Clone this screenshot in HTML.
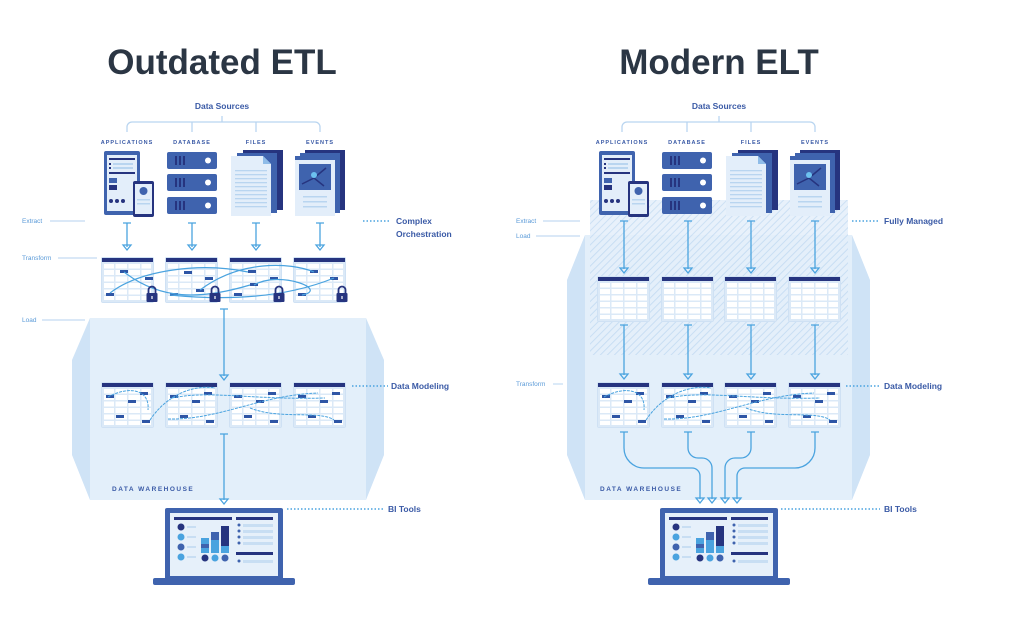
<!DOCTYPE html>
<html><head><meta charset="utf-8"><style>
html,body{margin:0;padding:0;background:#fff;}
svg{display:block;font-family:"Liberation Sans",sans-serif;}
.t{font-weight:bold;fill:#2b3644;font-size:35px;text-anchor:middle}
.ds{font-weight:bold;fill:#3a5aa6;font-size:8.5px;text-anchor:middle}
.cap{fill:#3a5aa6;font-size:5.5px;letter-spacing:1px;font-weight:bold;text-anchor:middle}
.lb{fill:#5a9ad8;font-size:6.5px}
.rl{fill:#3a5aa6;font-size:8.5px;font-weight:bold}
.wh{fill:#3a5aa6;font-size:6.5px;letter-spacing:1.5px;font-weight:bold}
</style></head><body>
<svg width="1009" height="617" viewBox="0 0 1009 617" xmlns="http://www.w3.org/2000/svg">
<defs>
<pattern id="hatch" width="5" height="5" patternUnits="userSpaceOnUse" patternTransform="rotate(45)">
<rect width="5" height="5" fill="#e4effa"/><line x1="0" y1="0" x2="0" y2="5" stroke="#c3dbf2" stroke-width="2"/></pattern>
<g id="tbl">
<rect x="-1" y="-1" width="53" height="46" rx="2" fill="#cfe1f4"/>
<rect x="0" y="0" width="51" height="44" fill="#fff"/>
<rect x="0" y="0" width="51" height="4" fill="#26347f"/>
<g fill="#dbe9f7">
<rect x="0" y="4" width="51" height="2"/><rect x="0" y="10.5" width="51" height="1.5"/><rect x="0" y="17" width="51" height="1.5"/><rect x="0" y="23.5" width="51" height="1.5"/><rect x="0" y="30" width="51" height="1.5"/><rect x="0" y="36.5" width="51" height="1.5"/><rect x="0" y="42" width="51" height="2"/>
<rect x="0" y="4" width="2" height="40"/><rect x="12" y="4" width="1.5" height="40"/><rect x="25" y="4" width="1.5" height="40"/><rect x="38" y="4" width="1.5" height="40"/><rect x="49" y="4" width="2" height="40"/>
</g></g>
<g id="tags" fill="#2e55a5"><rect x="4" y="12" width="8" height="3"/><rect x="26" y="17" width="8" height="3"/><rect x="38" y="9" width="8" height="3"/><rect x="14" y="32" width="8" height="3"/><rect x="40" y="37" width="8" height="3"/></g>
<g id="lock"><path d="M-3.5 0 v-3 a3.5 3.5 0 0 1 7 0 v3" fill="none" stroke="#26347f" stroke-width="1.8"/><rect x="-5.5" y="0" width="11" height="9" rx="1" fill="#26347f"/><rect x="-0.6" y="3" width="1.2" height="3" fill="#fff"/></g>
<g id="app">
<rect x="0" y="0" width="36" height="64" rx="2" fill="#3f63ae"/><rect x="3" y="4" width="30" height="56" fill="#e3eefa"/>
<rect x="5" y="7" width="26" height="2" fill="#26347f"/><rect x="5" y="12" width="2" height="2" fill="#26347f"/><rect x="9" y="12" width="20" height="2" fill="#b9d5f0"/><rect x="5" y="16" width="2" height="2" fill="#26347f"/><rect x="9" y="16" width="20" height="2" fill="#b9d5f0"/>
<rect x="5" y="21" width="26" height="2" fill="#26347f"/><rect x="5" y="27" width="8" height="5" fill="#3f63ae"/><rect x="5" y="34" width="8" height="5" fill="#26347f"/>
<g fill="#26347f"><circle cx="7" cy="50" r="2"/><circle cx="13" cy="50" r="2"/><circle cx="19" cy="50" r="2"/></g>
<rect x="29" y="30" width="21" height="36" rx="2" fill="#26347f"/><rect x="31" y="33" width="17" height="30" fill="#e3eefa"/><circle cx="39.5" cy="40" r="4" fill="#3f63ae"/><rect x="33" y="48" width="13" height="1.5" fill="#b9d5f0"/><rect x="33" y="52" width="13" height="1.5" fill="#b9d5f0"/>
</g>
<g id="srv"><rect x="0" y="0" width="50" height="17" rx="2" fill="#3f63ae"/><g fill="#26347f"><rect x="8" y="4" width="2" height="9"/><rect x="12" y="4" width="2" height="9"/><rect x="16" y="4" width="2" height="9"/></g><circle cx="41" cy="8.5" r="3" fill="#fff"/></g>
<g id="db"><use href="#srv"/><use href="#srv" y="22"/><use href="#srv" y="45"/></g>
<g id="files">
<rect x="12" y="0" width="40" height="60" fill="#26347f"/><rect x="6" y="3" width="40" height="60" fill="#3f63ae"/>
<path d="M0 6 h32 l8 8 v52 h-40z" fill="#e3eefa"/><path d="M32 6 v8 h8z" fill="#8fbce8"/>
<g fill="#b9d5f0"><rect x="4" y="20" width="32" height="1.3"/><rect x="4" y="24" width="32" height="1.3"/><rect x="4" y="28" width="32" height="1.3"/><rect x="4" y="32" width="32" height="1.3"/><rect x="4" y="36" width="32" height="1.3"/><rect x="4" y="40" width="32" height="1.3"/><rect x="4" y="44" width="32" height="1.3"/><rect x="4" y="48" width="32" height="1.3"/><rect x="4" y="52" width="32" height="1.3"/><rect x="4" y="56" width="32" height="1.3"/></g>
</g>
<g id="events">
<rect x="10" y="0" width="40" height="60" fill="#26347f"/><rect x="5" y="3" width="40" height="60" fill="#3f63ae"/>
<rect x="0" y="6" width="40" height="60" fill="#e3eefa"/><rect x="0" y="6" width="40" height="4" fill="#3f63ae"/>
<rect x="4" y="14" width="32" height="26" fill="#3f63ae"/><path d="M7 34 l12 -6 l10 8 M19 28 l12 -10" stroke="#26347f" stroke-width="1.5" fill="none"/><circle cx="19" cy="25" r="3" fill="#6cc1ef"/>
<rect x="8" y="46" width="24" height="1.5" fill="#b9d5f0"/><rect x="8" y="51" width="24" height="1.5" fill="#b9d5f0"/><rect x="8" y="56" width="24" height="1.5" fill="#b9d5f0"/>
</g>
<g id="laptop">
<rect x="12" y="0" width="118" height="72" rx="2" fill="#3f63ae"/><rect x="17" y="5" width="108" height="63" fill="#e6f0fa"/>
<rect x="0" y="70" width="142" height="7" rx="2" fill="#3f63ae"/>
<rect x="21" y="9" width="58" height="3" fill="#26347f"/><rect x="83" y="9" width="37" height="3" fill="#26347f"/>
<circle cx="28" cy="19" r="3.5" fill="#26347f"/><circle cx="28" cy="29" r="3.5" fill="#4aa3df"/><circle cx="28" cy="39" r="3.5" fill="#3f63ae"/><circle cx="28" cy="49" r="3.5" fill="#4aa3df"/>
<g fill="#c8def3"><rect x="34" y="18" width="9" height="2"/><rect x="34" y="28" width="9" height="2"/><rect x="34" y="38" width="9" height="2"/><rect x="34" y="48" width="9" height="2"/></g>
<rect x="48" y="30" width="8" height="15" fill="#4aa3df"/><rect x="48" y="36" width="8" height="4" fill="#3f63ae"/><rect x="58" y="24" width="8" height="21" fill="#4aa3df"/><rect x="58" y="24" width="8" height="8" fill="#3f63ae"/><rect x="68" y="18" width="8" height="27" fill="#26347f"/><rect x="68" y="38" width="8" height="7" fill="#4aa3df"/>
<circle cx="52" cy="50" r="3.5" fill="#26347f"/><circle cx="62" cy="50" r="3.5" fill="#4aa3df"/><circle cx="72" cy="50" r="3.5" fill="#3f63ae"/>
<g fill="#3f63ae"><circle cx="86" cy="17" r="1.5"/><circle cx="86" cy="23" r="1.5"/><circle cx="86" cy="29" r="1.5"/><circle cx="86" cy="35" r="1.5"/><circle cx="86" cy="53" r="1.5"/></g>
<g fill="#c8def3"><rect x="90" y="16" width="30" height="3"/><rect x="90" y="22" width="30" height="3"/><rect x="90" y="28" width="30" height="3"/><rect x="90" y="34" width="30" height="3"/><rect x="90" y="52" width="30" height="3"/></g>
<rect x="83" y="44" width="37" height="3" fill="#26347f"/>
</g>
</defs>

<!-- ================= LEFT ================= -->
<text class="t" x="222" y="74">Outdated ETL</text>
<text class="ds" x="222" y="109">Data Sources</text>
<path d="M127 132 v-5 a5 5 0 0 1 5 -5 h183 a5 5 0 0 1 5 5 v5 M192 122 v10 M256 122 v10 M222 122 v-6" fill="none" stroke="#b9d5f0" stroke-width="1.3"/>
<text class="cap" x="127" y="144">APPLICATIONS</text><text class="cap" x="192" y="144">DATABASE</text><text class="cap" x="256" y="144">FILES</text><text class="cap" x="320" y="144">EVENTS</text>
<use href="#app" x="104" y="151"/><use href="#db" x="167" y="152"/><use href="#files" x="231" y="150"/><use href="#events" x="295" y="150"/>

<text class="lb" x="22" y="223">Extract</text><line x1="50" y1="221" x2="85" y2="221" stroke="#c3dbf2" stroke-width="1.2"/>
<text class="lb" x="22" y="260">Transform</text><line x1="58" y1="258" x2="97" y2="258" stroke="#c3dbf2" stroke-width="1.2"/>
<text class="lb" x="22" y="322">Load</text><line x1="42" y1="320" x2="85" y2="320" stroke="#c3dbf2" stroke-width="1.2"/>
<line x1="363" y1="221" x2="390" y2="221" stroke="#4aa3df" stroke-width="1.5" stroke-dasharray="1.5 2"/>
<text class="rl" x="396" y="224">Complex</text><text class="rl" x="396" y="237">Orchestration</text>

<g fill="none" stroke="#4aa3df" stroke-width="1.3">
<path d="M123 223 h8 M127 223 v24 M123 245 l4 5 l4 -5z"/>
<path d="M188 223 h8 M192 223 v24 M188 245 l4 5 l4 -5z"/>
<path d="M252 223 h8 M256 223 v24 M252 245 l4 5 l4 -5z"/>
<path d="M316 223 h8 M320 223 v24 M316 245 l4 5 l4 -5z"/>
</g>

<polygon points="90,318 366,318 384,360 384,455 366,500 90,500 72,455 72,360" fill="#cfe3f6"/>
<rect x="90" y="318" width="276" height="182" fill="#e3effa"/>
<text class="wh" x="112" y="491">DATA WAREHOUSE</text>

<use href="#tbl" x="102" y="258"/><use href="#tbl" x="166" y="258"/><use href="#tbl" x="230" y="258"/><use href="#tbl" x="294" y="258"/>
<g fill="#2e55a5"><rect x="106" y="293" width="8" height="3"/><rect x="120" y="270" width="8" height="3"/><rect x="145" y="277" width="8" height="3"/><rect x="170" y="293" width="8" height="3"/><rect x="184" y="271" width="8" height="3"/><rect x="205" y="277" width="8" height="3"/><rect x="196" y="289" width="8" height="3"/><rect x="234" y="293" width="8" height="3"/><rect x="248" y="270" width="8" height="3"/><rect x="270" y="277" width="8" height="3"/><rect x="250" y="283" width="8" height="3"/><rect x="298" y="293" width="8" height="3"/><rect x="310" y="270" width="8" height="3"/><rect x="330" y="277" width="8" height="3"/></g>
<g fill="none" stroke="#4aa3df" stroke-width="1.2">
<path d="M110 293 C140 270 200 262 248 272"/><path d="M124 272 C160 300 200 300 250 285"/><path d="M170 295 C220 300 280 300 334 278"/><path d="M200 290 C240 260 290 262 314 272"/><path d="M254 285 C280 270 330 290 302 295"/>
</g>
<use href="#lock" x="152" y="293"/><use href="#lock" x="215" y="293"/><use href="#lock" x="279" y="293"/><use href="#lock" x="342" y="293"/>

<g fill="none" stroke="#4aa3df" stroke-width="1.3">
<path d="M220 309 h8 M224 309 v67 M220 375 l4 5 l4 -5z"/>
<path d="M220 434 h8 M224 434 v66 M220 499 l4 5 l4 -5z"/>
</g>
<use href="#tbl" x="102" y="383"/><use href="#tbl" x="166" y="383"/><use href="#tbl" x="230" y="383"/><use href="#tbl" x="294" y="383"/>
<use href="#tags" x="102" y="383"/><use href="#tags" x="166" y="383"/><use href="#tags" x="230" y="383"/><use href="#tags" x="294" y="383"/>
<g fill="none" stroke="#4aa3df" stroke-width="1" stroke-dasharray="3 1">
<path d="M108 397 C130 385 150 390 148 410"/><path d="M150 420 C170 390 200 385 215 388"/><path d="M172 398 C210 390 250 400 325 398"/><path d="M168 419 C220 420 260 395 318 393"/><path d="M250 408 C280 420 320 410 334 420"/>
</g>
<line x1="352" y1="386" x2="388" y2="386" stroke="#4aa3df" stroke-width="1.5" stroke-dasharray="1.5 2"/>
<text class="rl" x="391" y="389">Data Modeling</text>

<use href="#laptop" x="153" y="508"/>
<line x1="287" y1="509" x2="385" y2="509" stroke="#4aa3df" stroke-width="1.5" stroke-dasharray="1.5 2"/>
<text class="rl" x="388" y="512">BI Tools</text>

<!-- ================= RIGHT ================= -->
<text class="t" x="719" y="74">Modern ELT</text>
<text class="ds" x="719" y="109">Data Sources</text>
<path d="M622 132 v-5 a5 5 0 0 1 5 -5 h183 a5 5 0 0 1 5 5 v5 M687 122 v10 M751 122 v10 M719 122 v-6" fill="none" stroke="#b9d5f0" stroke-width="1.3"/>
<text class="cap" x="622" y="144">APPLICATIONS</text><text class="cap" x="687" y="144">DATABASE</text><text class="cap" x="751" y="144">FILES</text><text class="cap" x="815" y="144">EVENTS</text>

<polygon points="585,235 852,235 870,280 870,455 852,500 585,500 567,455 567,280" fill="#cfe3f6"/>
<rect x="585" y="235" width="267" height="265" fill="#e3effa"/>
<rect x="590" y="200" width="258" height="155" fill="url(#hatch)" opacity="0.85"/>
<text class="wh" x="600" y="491">DATA WAREHOUSE</text>

<use href="#app" x="599" y="151"/><use href="#db" x="662" y="152"/><use href="#files" x="726" y="150"/><use href="#events" x="790" y="150"/>

<text class="lb" x="516" y="223">Extract</text><line x1="543" y1="221" x2="580" y2="221" stroke="#c3dbf2" stroke-width="1.2"/>
<text class="lb" x="516" y="238">Load</text><line x1="536" y1="236" x2="580" y2="236" stroke="#c3dbf2" stroke-width="1.2"/>
<text class="lb" x="516" y="386">Transform</text><line x1="553" y1="384" x2="563" y2="384" stroke="#c3dbf2" stroke-width="1.2"/>
<line x1="852" y1="221" x2="880" y2="221" stroke="#4aa3df" stroke-width="1.5" stroke-dasharray="1.5 2"/>
<text class="rl" x="884" y="224">Fully Managed</text>

<g fill="none" stroke="#4aa3df" stroke-width="1.3">
<path d="M620 221 h8 M624 221 v48 M620 268 l4 5 l4 -5z"/>
<path d="M684 221 h8 M688 221 v48 M684 268 l4 5 l4 -5z"/>
<path d="M747 221 h8 M751 221 v48 M747 268 l4 5 l4 -5z"/>
<path d="M811 221 h8 M815 221 v48 M811 268 l4 5 l4 -5z"/>
<path d="M620 325 h8 M624 325 v50 M620 374 l4 5 l4 -5z"/>
<path d="M684 325 h8 M688 325 v50 M684 374 l4 5 l4 -5z"/>
<path d="M747 325 h8 M751 325 v50 M747 374 l4 5 l4 -5z"/>
<path d="M811 325 h8 M815 325 v50 M811 374 l4 5 l4 -5z"/>
</g>
<use href="#tbl" x="598" y="277"/><use href="#tbl" x="662" y="277"/><use href="#tbl" x="725" y="277"/><use href="#tbl" x="789" y="277"/>
<use href="#tbl" x="598" y="383"/><use href="#tbl" x="662" y="383"/><use href="#tbl" x="725" y="383"/><use href="#tbl" x="789" y="383"/>
<use href="#tags" x="598" y="383"/><use href="#tags" x="662" y="383"/><use href="#tags" x="725" y="383"/><use href="#tags" x="789" y="383"/>
<g fill="none" stroke="#4aa3df" stroke-width="1" stroke-dasharray="3 1">
<path d="M604 397 C626 385 646 390 644 410"/><path d="M646 420 C666 390 696 385 711 388"/><path d="M668 398 C706 390 746 400 820 398"/><path d="M664 419 C716 420 756 395 814 393"/><path d="M746 408 C776 420 816 410 830 420"/>
</g>
<line x1="846" y1="386" x2="880" y2="386" stroke="#4aa3df" stroke-width="1.5" stroke-dasharray="1.5 2"/>
<text class="rl" x="884" y="389">Data Modeling</text>

<g fill="none" stroke="#4aa3df" stroke-width="1.3">
<path d="M620 432 h8 M624 432 v16 a20 20 0 0 0 20 20 h48 a8 8 0 0 1 8 8 v23 M696 498 l4 5 l4 -5z"/>
<path d="M684 432 h8 M688 432 v16 a10 10 0 0 0 10 10 h4 a10 10 0 0 1 10 10 v31 M708 498 l4 5 l4 -5z"/>
<path d="M747 432 h8 M751 432 v16 a10 10 0 0 1 -10 10 h-6 a10 10 0 0 0 -10 10 v31 M721 498 l4 5 l4 -5z"/>
<path d="M811 432 h8 M815 432 v16 a20 20 0 0 1 -20 20 h-50 a8 8 0 0 0 -8 8 v23 M733 498 l4 5 l4 -5z"/>
</g>

<use href="#laptop" x="648" y="508"/>
<line x1="781" y1="509" x2="880" y2="509" stroke="#4aa3df" stroke-width="1.5" stroke-dasharray="1.5 2"/>
<text class="rl" x="884" y="512">BI Tools</text>
</svg>
</body></html>
